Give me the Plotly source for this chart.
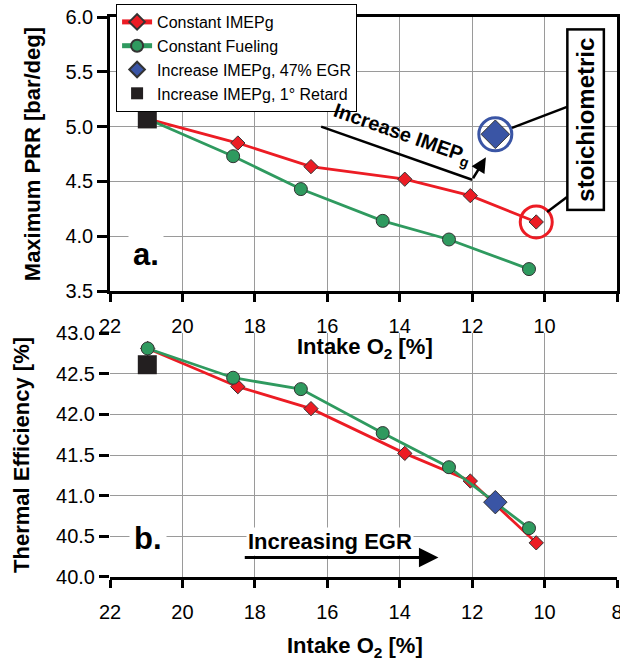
import plotly.graph_objects as go

# Intake O2 [%] for each series
o2_imep = [20.96, 18.47, 16.45, 13.86, 12.05, 10.23]
o2_fuel = [20.96, 18.60, 16.73, 14.47, 12.64, 10.43]
o2_egr = [11.36]
o2_retard = [20.97]

# a. Maximum PRR [bar/deg]
prr_imep = [5.07, 4.85, 4.635, 4.52, 4.37, 4.13]
prr_fuel = [5.07, 4.73, 4.43, 4.14, 3.97, 3.70]
prr_egr = [4.93]
prr_retard = [5.07]

# b. Thermal Efficiency [%]
eff_imep = [42.81, 42.34, 42.07, 41.52, 41.18, 40.42]
eff_fuel = [42.81, 42.45, 42.31, 41.77, 41.35, 40.60]
eff_egr = [40.92]
eff_retard = [42.61]

x_ticks = [22, 20, 18, 16, 14, 12, 10, 8]
x_text_top = ["22", "20", "18", "16", "14", "12", "10", ""]
x_text_bot = ["22", "20", "18", "16", "14", "12", "10", "8"]

RED = "#ec1c24"
GREEN = "#2f9a5f"
BLUE = "#3a55a5"
BLACK = "#231f20"
FONT = "Arial, Liberation Sans, sans-serif"

fig = go.Figure()

for xa, ya, ys, show in [("x", "y", (prr_imep, prr_fuel, prr_egr, prr_retard), True),
                         ("x2", "y2", (eff_imep, eff_fuel, eff_egr, eff_retard), False)]:
    big = 22 if show else 18
    fig.add_trace(go.Scatter(x=o2_imep, y=ys[0], name="Constant IMEPg", mode="lines+markers",
                             line=dict(color=RED, width=2.8),
                             marker=dict(symbol="diamond", size=11, color=RED, line=dict(color="#333", width=1)),
                             xaxis=xa, yaxis=ya, showlegend=show))
    fig.add_trace(go.Scatter(x=o2_fuel, y=ys[1], name="Constant Fueling", mode="lines+markers",
                             line=dict(color=GREEN, width=2.8),
                             marker=dict(symbol="circle", size=13, color=GREEN, line=dict(color="#333", width=1)),
                             xaxis=xa, yaxis=ya, showlegend=show))
    fig.add_trace(go.Scatter(x=o2_egr, y=ys[2], name="Increase IMEPg, 47% EGR", mode="markers",
                             marker=dict(symbol="diamond", size=big, color=BLUE, line=dict(color="#333", width=1)),
                             xaxis=xa, yaxis=ya, showlegend=show))
    fig.add_trace(go.Scatter(x=o2_retard, y=ys[3], name="Increase IMEPg, 1° Retard", mode="markers",
                             marker=dict(symbol="square", size=19, color=BLACK),
                             xaxis=xa, yaxis=ya, showlegend=show))

# highlight rings in panel a
fig.add_trace(go.Scatter(x=o2_egr, y=prr_egr, mode="markers", showlegend=False, hoverinfo="skip",
                         marker=dict(symbol="circle-open", size=33, color=BLUE, line=dict(width=3))))
fig.add_trace(go.Scatter(x=o2_imep[-1:], y=prr_imep[-1:], mode="markers", showlegend=False, hoverinfo="skip",
                         marker=dict(symbol="circle-open", size=32, color=RED, line=dict(width=3))))

axis_common = dict(range=[22, 8], tickvals=x_ticks, showgrid=True, gridcolor="#9a9a9a", gridwidth=1,
                   ticks="outside", ticklen=8, tickwidth=2.5, tickcolor="black", zeroline=False,
                   automargin=False, ticklabelstandoff=7, ticklabeloverflow="allow",
                   tickfont=dict(family=FONT, size=20, color="black"))

fig.update_layout(
    template="none",
    width=620, height=664,
    margin=dict(l=110, r=3, t=17, b=87, autoexpand=False),
    plot_bgcolor="white", paper_bgcolor="white",
    font=dict(family=FONT, color="black"),
    xaxis=dict(**axis_common, ticktext=x_text_top, anchor="y", showline=True, linecolor="black",
               linewidth=2.5, mirror=True),
    yaxis=dict(domain=[0.5107, 1], range=[3.5, 6.0], dtick=0.5, tickformat=".1f", showgrid=True,
               gridcolor="#9a9a9a", ticks="outside", ticklen=10, tickwidth=2.5, tickcolor="black",
               showline=True, linecolor="black", linewidth=2.5, mirror=True, zeroline=False,
               automargin=False, tickfont=dict(family=FONT, size=20, color="black")),
    xaxis2=dict(**axis_common, ticktext=x_text_bot, anchor="y2", showline=True, linecolor="black",
                linewidth=3),
    yaxis2=dict(domain=[0, 0.4357], range=[40.0, 43.0], dtick=0.5, tickformat=".1f", showgrid=True,
                gridcolor="#9a9a9a", ticks="outside", ticklen=10, tickwidth=2.5, tickcolor="black",
                showline=False, zeroline=False, anchor="x2", automargin=False,
                tickfont=dict(family=FONT, size=20, color="black")),
    legend=dict(x=0.012, y=1 - 4 / 664, yref="container", xanchor="left", yanchor="top",
                bgcolor="white", bordercolor="black", borderwidth=1,
                font=dict(family=FONT, size=16, color="black"),
                itemsizing="constant", tracegroupgap=0),
    showlegend=True,
)

title_font = dict(family=FONT, size=22, color="black")
ann = [
    dict(text="<b>Maximum PRR [bar/deg]</b>", xref="paper", yref="paper", x=0, y=0.755,
         xshift=-78, xanchor="center", yanchor="middle", textangle=-90, showarrow=False, font=title_font),
    dict(text="<b>Thermal Efficiency [%]</b>", xref="paper", yref="paper", x=0, y=0.218,
         xshift=-88, xanchor="center", yanchor="middle", textangle=-90, showarrow=False, font=title_font),
    dict(text="<b>Intake O<sub>2</sub> [%]</b>", xref="paper", yref="paper", x=0.503, y=0.409,
         xanchor="center", yanchor="middle", showarrow=False, font=title_font),
    dict(text="<b>Intake O<sub>2</sub> [%]</b>", xref="paper", yref="paper", x=0.483, y=-0.125,
         xanchor="center", yanchor="middle", showarrow=False, font=title_font),
    dict(text="<b>a.</b>", xref="x", yref="y", x=21.0, y=3.83, showarrow=False, bgcolor="white",
         borderpad=4, font=dict(family=FONT, size=31, color="black")),
    dict(text="<b>b.</b>", xref="x2", yref="y2", x=20.95, y=40.47, showarrow=False, bgcolor="white",
         borderpad=4, font=dict(family=FONT, size=31, color="black")),
    dict(text="<b>Increasing EGR</b>", xref="x2", yref="y2", x=15.92, y=40.44, showarrow=False,
         bgcolor="white", font=dict(family=FONT, size=22, color="black")),
    dict(text="", xref="x2", yref="y2", x=12.93, y=40.24, ax=18.32, ay=40.24, axref="x2", ayref="y2",
         showarrow=True, arrowhead=2, arrowsize=1.3, arrowwidth=3, arrowcolor="black"),
    dict(text="<b>Increase IMEP<sub>g</sub></b>", xref="x", yref="y", x=13.95, y=4.93, showarrow=False,
         textangle=19.5, font=dict(family=FONT, size=20, color="black")),
    dict(text="", xref="x", yref="y", x=11.62, y=4.72, ax=12.0, ay=4.515, axref="x", ayref="y",
         showarrow=True, arrowhead=2, arrowsize=1.2, arrowwidth=2.5, arrowcolor="black"),
    dict(text="<b>stoichiometric</b>", xref="x", yref="y", x=8.88, y=5.06, showarrow=False,
         textangle=-90, bgcolor="white", bordercolor="black", borderwidth=2.5, borderpad=2,
         width=174, height=30, font=dict(family=FONT, size=24, color="black")),
]
fig.update_layout(annotations=ann)

fig.add_shape(type="line", xref="x", yref="y", x0=16.17, y0=5.0, x1=12.0, y1=4.515,
              line=dict(color="black", width=2.5))
fig.add_shape(type="line", xref="x", yref="y", x0=10.90, y0=4.988, x1=9.38, y1=5.18,
              line=dict(color="black", width=2.5))
fig.add_shape(type="line", xref="x", yref="y", x0=9.93, y0=4.22, x1=9.38, y1=4.357,
              line=dict(color="black", width=2.5))

# drop the page's default body margin so the figure sits at the window corner
fig.write_html("out.html", config={"displayModeBar": False},
               post_script="document.body.style.margin='0';")
